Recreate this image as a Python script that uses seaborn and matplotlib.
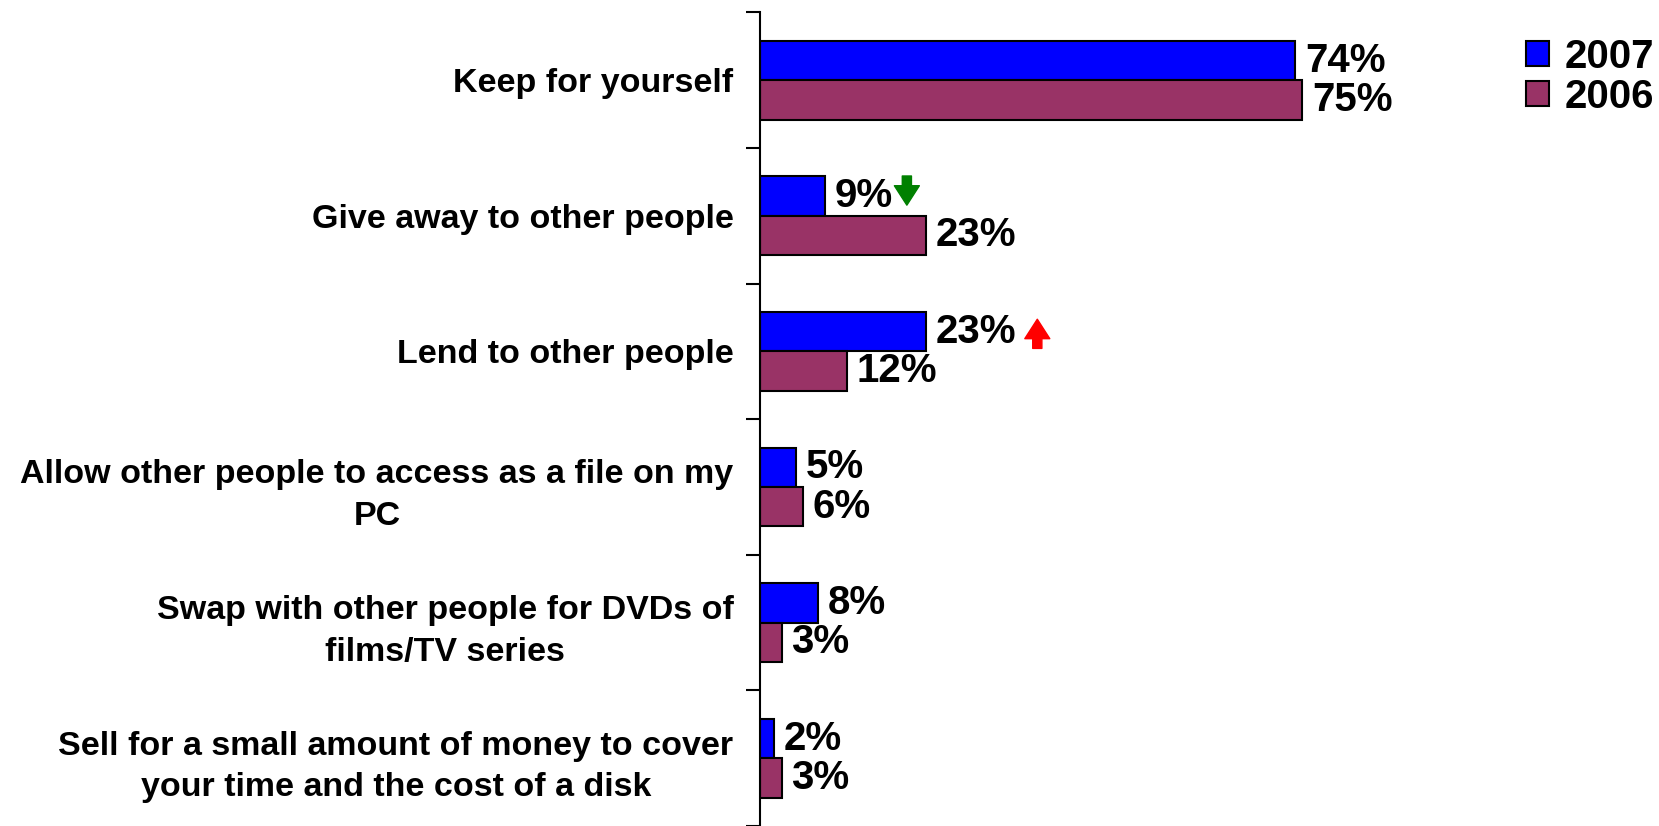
import pandas as pd
import matplotlib
matplotlib.use("Agg")
import matplotlib.pyplot as plt
import matplotlib.transforms as mtransforms
from matplotlib.patches import Patch
import seaborn as sns

# data
categories = [
    "Keep for yourself",
    "Give away to other people",
    "Lend to other people",
    "Allow other people to access as a file on my\nPC",
    "Swap with other people for DVDs of\nfilms/TV series",
    "Sell for a small amount of money to cover\nyour time and the cost of a disk",
]
vals_2007 = [74, 9, 23, 5, 8, 2]
vals_2006 = [75, 23, 12, 6, 3, 3]
trend_2007 = [None, "down", "up", None, None, None]
years = ["2007", "2006"]
colors = {"2007": "#0000FF", "2006": "#993366"}

df = pd.DataFrame({
    "Category": categories * 2,
    "Value": vals_2007 + vals_2006,
    "Year": ["2007"] * len(categories) + ["2006"] * len(categories),
})

sns.set_style("white")
plt.rcParams["font.family"] = ["Liberation Sans", "DejaVu Sans"]
plt.rcParams["text.color"] = "black"
plt.rcParams["ytick.color"] = "black"

fig = plt.figure(figsize=(16.59, 8.26), dpi=100)
ax = fig.add_axes([0.458, 0.0, 0.436, 0.985])

bar_w = 0.58
sns.barplot(data=df, y="Category", x="Value", hue="Year", hue_order=years,
            order=categories, palette=colors, orient="h", width=bar_w,
            saturation=1, edgecolor="black", linewidth=1.5, ax=ax, legend=False)

for cont in ax.containers:
    ax.bar_label(cont, fmt="%d%%", padding=7, fontsize=29, fontweight="bold", color="black")

# trend arrows next to the 2007 labels
for i, t in enumerate(trend_2007):
    if t is None:
        continue
    v = vals_2007[i]
    yc = i - bar_w / 4
    xoff = 38 + 21 * len(str(v))
    if t == "down":
        sign, shift, col = 1, 4, "green"
    else:
        sign, shift, col = -1, -1.5, "red"
    head = mtransforms.offset_copy(ax.transData, fig=fig, x=xoff, y=-10.5 * sign + shift, units="points")
    tail = mtransforms.offset_copy(ax.transData, fig=fig, x=xoff, y=10.5 * sign + shift, units="points")
    ax.annotate("", xy=(v, yc), xycoords=head, xytext=(v, yc), textcoords=tail,
                arrowprops=dict(arrowstyle="simple,head_length=0.7,head_width=0.9,tail_width=0.33",
                                color=col, shrinkA=0, shrinkB=0, mutation_scale=20),
                annotation_clip=False)

n = len(categories)
ax.set_xlim(0, 100)
ax.set_ylim(n - 0.5, -0.5)
ax.set_yticks([k - 0.5 for k in range(n + 1)])
ax.set_yticklabels([])
ax.set_yticks(range(n), minor=True)
ax.set_yticklabels(categories, minor=True, fontsize=24.5, fontweight="bold",
                   multialignment="center", linespacing=1.45, color="black")
ax.tick_params(axis="y", which="major", length=10, width=1.5, direction="out", left=True)
ax.tick_params(axis="y", which="minor", length=0, pad=19)
ax.set_xticks([])
ax.set_xlabel("")
ax.set_ylabel("")
for s in ["top", "right", "bottom"]:
    ax.spines[s].set_visible(False)
ax.spines["left"].set_linewidth(1.5)
ax.spines["left"].set_color("black")

handles = [Patch(facecolor=colors[y], edgecolor="black", linewidth=1.5, label=y) for y in years]
fig.legend(handles=handles, loc="upper right", bbox_to_anchor=(1.007, 0.974), frameon=False,
           prop={"size": 29, "weight": "bold"}, handlelength=0.58, handleheight=0.58,
           handletextpad=0.4, labelspacing=0.05, borderaxespad=0.0)

fig.savefig("out.png", dpi=100)
